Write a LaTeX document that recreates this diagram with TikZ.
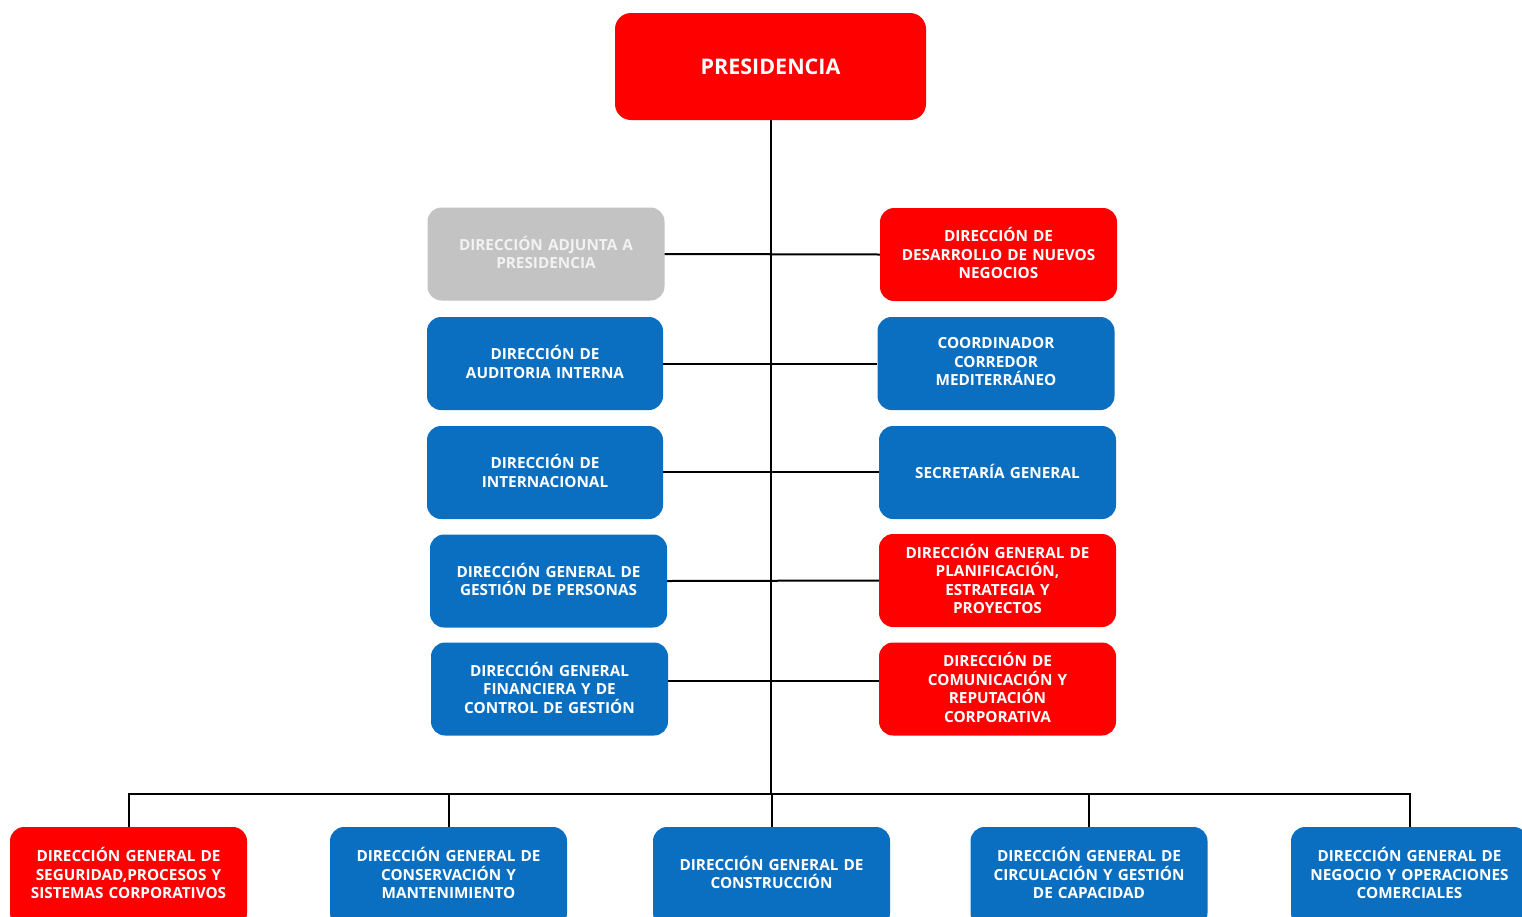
\documentclass[tikz,border=0pt]{standalone}
\usepackage{fontspec}
\setmainfont{Open Sans}[WordSpace=0.75]
\definecolor{cred}{HTML}{FF0000}
\definecolor{cblue}{HTML}{0B6FC1}
\definecolor{cgray}{HTML}{C3C3C3}
\definecolor{cgtext}{HTML}{F2F2F2}
\tikzset{
  box/.style={rounded corners=14pt, minimum width=237pt, minimum height=93pt,
    text width=228pt, align=center, inner sep=0pt,
    font=\bfseries\fontsize{15.3}{18.5}\selectfont, text=white,
    execute at end node={\par\vspace{3pt}}},
  redbox/.style={box, fill=cred},
  bluebox/.style={box, fill=cblue},
  graybox/.style={box, fill=cgray, text=cgtext},
  link/.style={draw=black, line width=2pt}
}
\begin{document}
\begin{tikzpicture}[x=1pt,y=-1pt]
\useasboundingbox (0,0) rectangle (1522,916);
\clip (0,0) rectangle (1522,916);
% top
\node[fill=cred, text=white, minimum width=311pt, minimum height=107pt, inner sep=0pt,
  font=\bfseries\fontsize{21.5}{25}\selectfont, rounded corners=16pt] (pres) at (770.5,66.5) {PRESIDENCIA};
% left column
\node[graybox] (adj) at (546,254) {DIRECCIÓN ADJUNTA A\\PRESIDENCIA};
\node[bluebox, minimum width=236pt] (aud) at (545,363.5) {DIRECCIÓN DE\\AUDITORIA INTERNA};
\node[bluebox, minimum width=236pt] (int) at (545,472.5) {DIRECCIÓN DE\\INTERNACIONAL};
\node[bluebox] (per) at (548.5,581) {DIRECCIÓN GENERAL DE\\GESTIÓN DE PERSONAS};
\node[bluebox] (fin) at (549.5,689) {DIRECCIÓN GENERAL\\FINANCIERA Y DE\\CONTROL DE GESTIÓN};
% right column
\node[redbox] (des) at (998.5,254.5) {DIRECCIÓN DE\\DESARROLLO DE NUEVOS\\NEGOCIOS};
\node[bluebox] (coo) at (996,363.5) {COORDINADOR\\CORREDOR\\MEDITERRÁNEO};
\node[bluebox] (sec) at (997.5,472.5) {SECRETARÍA GENERAL};
\node[redbox] (pla) at (997.5,580.5) {DIRECCIÓN GENERAL DE\\PLANIFICACIÓN,\\ESTRATEGIA Y\\PROYECTOS};
\node[redbox] (com) at (997.5,689) {DIRECCIÓN DE\\COMUNICACIÓN Y\\REPUTACIÓN\\CORPORATIVA};
% bottom row
\node[redbox, minimum width=237pt, minimum height=100pt] (b1) at (128.5,877) {};
\node[bluebox, minimum width=237pt, minimum height=100pt] (b2) at (448.5,877) {};
\node[bluebox, minimum width=237pt, minimum height=100pt] (b3) at (771.5,877) {};
\node[bluebox, minimum width=237pt, minimum height=100pt] (b4) at (1089,877) {};
\node[bluebox, minimum width=237pt, minimum height=100pt] (b5) at (1409.5,877) {};
\node[box] (t1) at (128.5,874.5) {DIRECCIÓN GENERAL DE\\SEGURIDAD,PROCESOS Y\\SISTEMAS CORPORATIVOS};
\node[box] (t2) at (448.5,874.5) {DIRECCIÓN GENERAL DE\\CONSERVACIÓN Y\\MANTENIMIENTO};
\node[box] (t3) at (771.5,874) {DIRECCIÓN GENERAL DE\\CONSTRUCCIÓN};
\node[box] (t4) at (1089,874.5) {DIRECCIÓN GENERAL DE\\CIRCULACIÓN Y GESTIÓN\\DE CAPACIDAD};
\node[box] (t5) at (1409.5,874.5) {DIRECCIÓN GENERAL DE\\NEGOCIO Y OPERACIONES\\COMERCIALES};
% connectors
\coordinate (bus) at (770.5,794);
\draw[link] (pres.south) -- (bus);
\draw[link] (adj.east) -- (des.west);
\draw[link] (aud.east) -- (coo.west);
\draw[link] ([yshift=0.5pt]int.east) -- ([yshift=0.5pt]sec.west);
\draw[link] (per.east) -- (pla.west);
\draw[link] ([yshift=8.5pt]fin.east) -- ([yshift=8.5pt]com.west);
\draw[link] (b1.north) -- (b1.north |- bus) -- (b5.north |- bus) -- (b5.north);
\draw[link] (b2.north) -- (b2.north |- bus);
\draw[link] (b3.north) -- (b3.north |- bus);
\draw[link] (b4.north) -- (b4.north |- bus);
\end{tikzpicture}
\end{document}
